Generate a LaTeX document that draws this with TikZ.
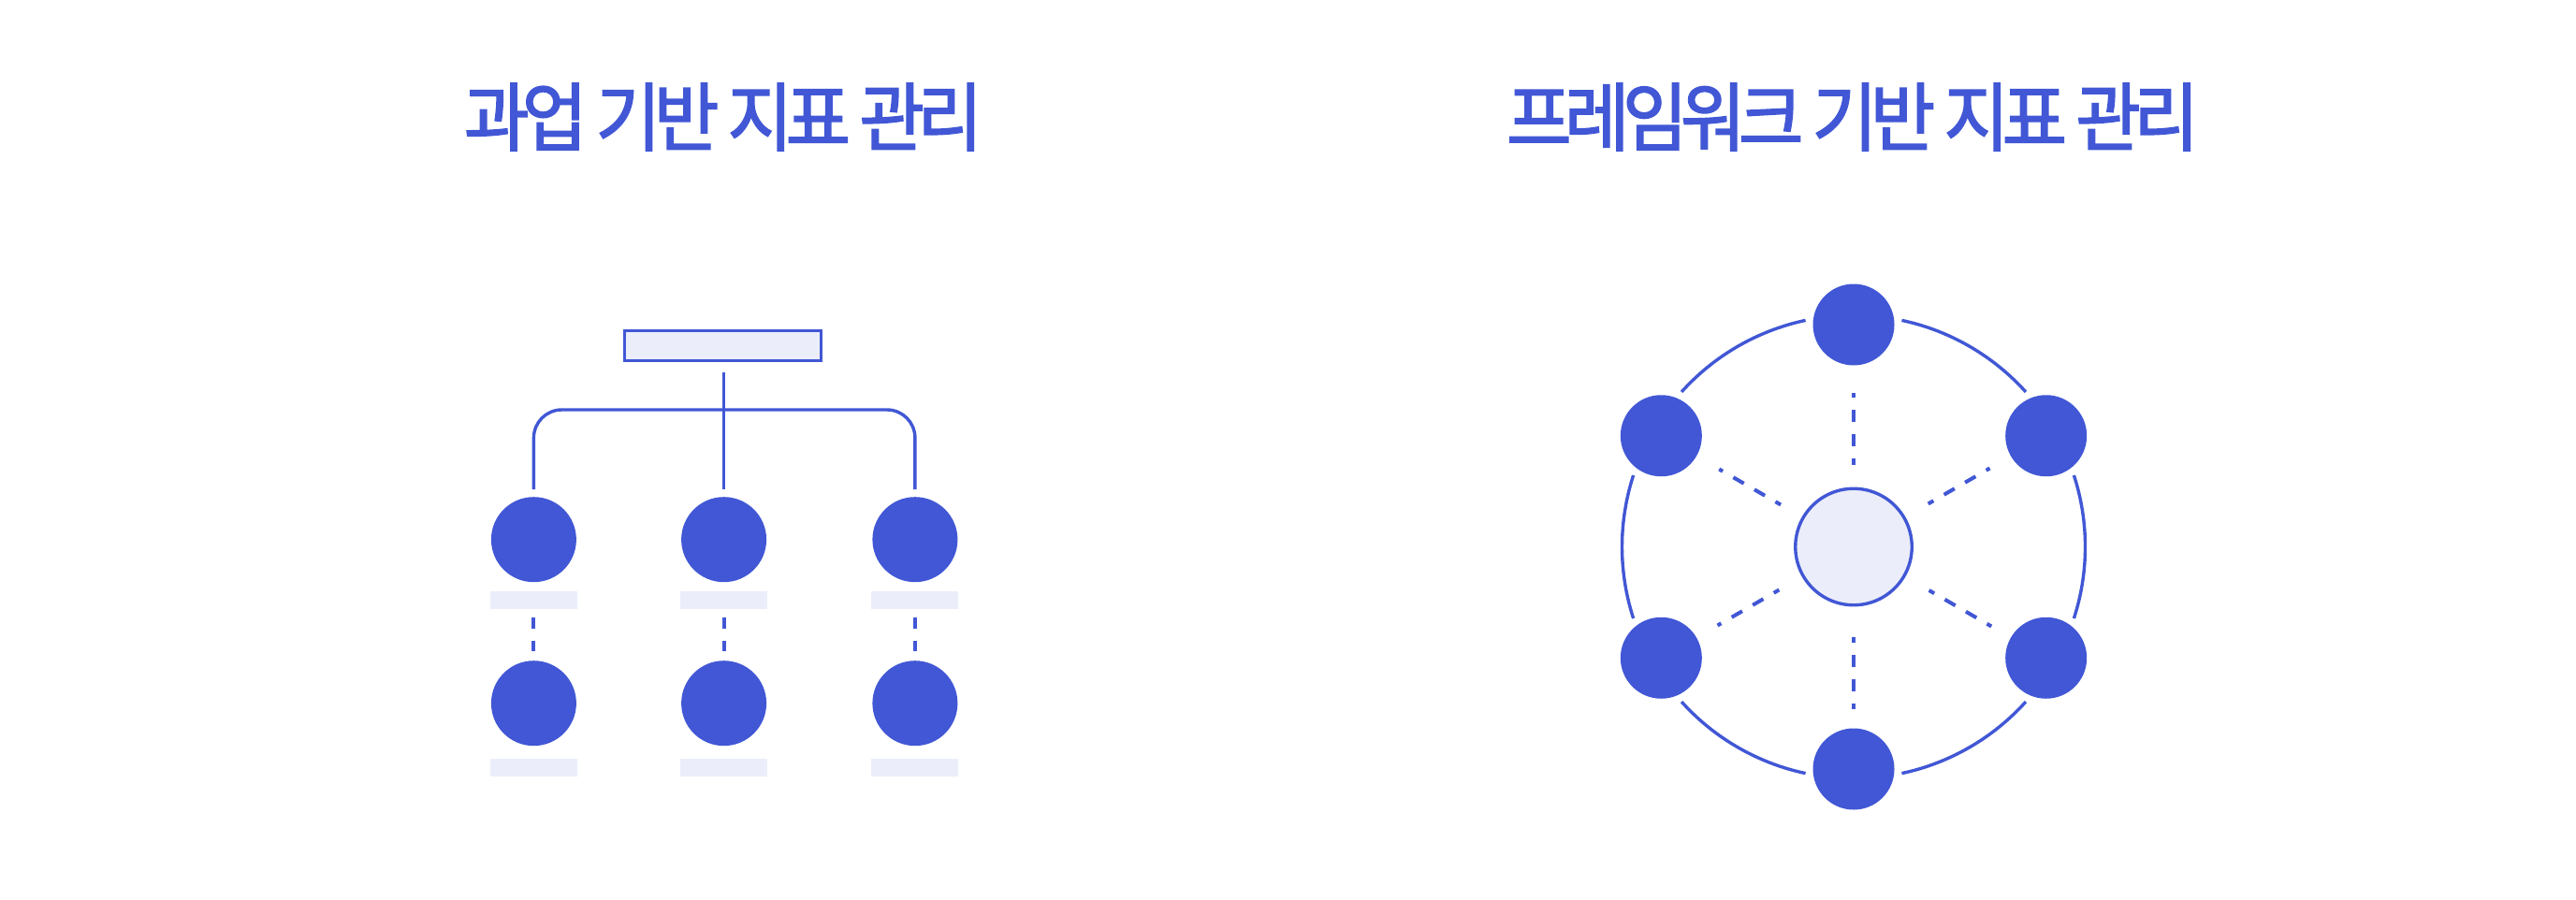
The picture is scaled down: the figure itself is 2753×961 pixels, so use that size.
\documentclass[tikz,border=0pt]{standalone}
\usepackage{fontspec}
\usetikzlibrary{calc}
\newfontfamily\krfont[LetterSpace=-9.5,FakeBold=2,FakeStretch=0.945]{Noto Sans CJK KR}
\definecolor{mainblue}{HTML}{4157D5}
\definecolor{lightfill}{HTML}{EBEEFA}
\begin{document}
\begin{tikzpicture}[x=1pt,y=-1pt,
  title/.style={font=\krfont\fontsize{80}{90}\selectfont, text=mainblue, inner sep=0pt, anchor=base},
  dot/.style={circle, fill=mainblue, minimum size=91pt, inner sep=0pt},
  ringdot/.style={circle, fill=mainblue, minimum size=87pt, inner sep=0pt},
  labelbar/.style={fill=lightfill, minimum width=93pt, minimum height=19pt, inner sep=0pt},
  rootbox/.style={draw=mainblue, fill=lightfill, line width=3.4pt, minimum width=210pt, minimum height=32pt, inner sep=0pt},
  hub/.style={circle, draw=mainblue, fill=lightfill, line width=3.4pt, minimum size=124.5pt, inner sep=0pt},
  wire/.style={draw=mainblue, line width=3.4pt},
  treedash/.style={draw=mainblue, line width=4pt, dash pattern=on 12pt off 13pt},
  spoke/.style={draw=mainblue, line width=4pt, dash pattern=on 13pt off 13pt, dash phase=6.5pt},
  ring/.style={draw=mainblue, line width=3.4pt}
]
\useasboundingbox (0,0) rectangle (2753,961);

% titles
\node[title] (tl) at (773,155) {과업 기반 지표 관리};
\node[title] (tr) at (1980,155) {프레임워크 기반 지표 관리};

% ---- left: tree ----
\node[rootbox] (root) at (772.5,369.5) {};
\node[dot] (a1) at (570.4,576.7) {};
\node[dot] (a2) at (773.6,576.7) {};
\node[dot] (a3) at (977.9,576.7) {};
\node[dot] (b1) at (570.4,751.7) {};
\node[dot] (b2) at (773.6,751.7) {};
\node[dot] (b3) at (977.9,751.7) {};
\node[labelbar] (la1) at (570.4,641) {};
\node[labelbar] (la2) at (773.6,641) {};
\node[labelbar] (la3) at (977.9,641) {};
\node[labelbar] (lb1) at (570.4,820) {};
\node[labelbar] (lb2) at (773.6,820) {};
\node[labelbar] (lb3) at (977.9,820) {};

\draw[wire] (773.6,398) -- ($(a2.north)+(0,-8)$);
\draw[wire, rounded corners=30pt] ($(a1.north)+(0,-8)$) |- (773.6,438) -| ($(a3.north)+(0,-8)$);

\draw[treedash] ($(la1.south)+(0,9)$) -- ($(b1.north)+(0,-10)$);
\draw[treedash] ($(la2.south)+(0,9)$) -- ($(b2.north)+(0,-10)$);
\draw[treedash] ($(la3.south)+(0,9)$) -- ($(b3.north)+(0,-10)$);

% ---- right: hub ----
\node[hub] (c) at (1981,584.5) {};
\begin{scope}[shift={(1981,584.5)}, y=1pt]
  \node[ringdot] (n1) at (90:237.5) {};
  \node[ringdot] (n2) at (30:237.5) {};
  \node[ringdot] (n3) at (-30:237.5) {};
  \node[ringdot] (n4) at (-90:237.5) {};
  \node[ringdot] (n5) at (-150:237.5) {};
  \node[ringdot] (n6) at (150:237.5) {};
  \foreach \a in {102,162,222,282,342,42}{
    \draw[ring] (\a:247.5) arc[start angle=\a, end angle=\a+36, radius=247.5];
  }
\end{scope}

\draw[spoke] ($(c.center)!88pt!(n1.center)$) -- ($(c.center)!165pt!(n1.center)$);
\draw[spoke] ($(c.center)!92pt!(n2.center)$) -- ($(c.center)!168pt!(n2.center)$);
\draw[spoke] ($(c.center)!93pt!(n3.center)$) -- ($(c.center)!170pt!(n3.center)$);
\draw[spoke] ($(c.center)!96pt!(n4.center)$) -- ($(c.center)!173pt!(n4.center)$);
\draw[spoke] ($(c.center)!92pt!(n5.center)$) -- ($(c.center)!168pt!(n5.center)$);
\draw[spoke] ($(c.center)!90pt!(n6.center)$) -- ($(c.center)!166pt!(n6.center)$);
\end{tikzpicture}
\end{document}
